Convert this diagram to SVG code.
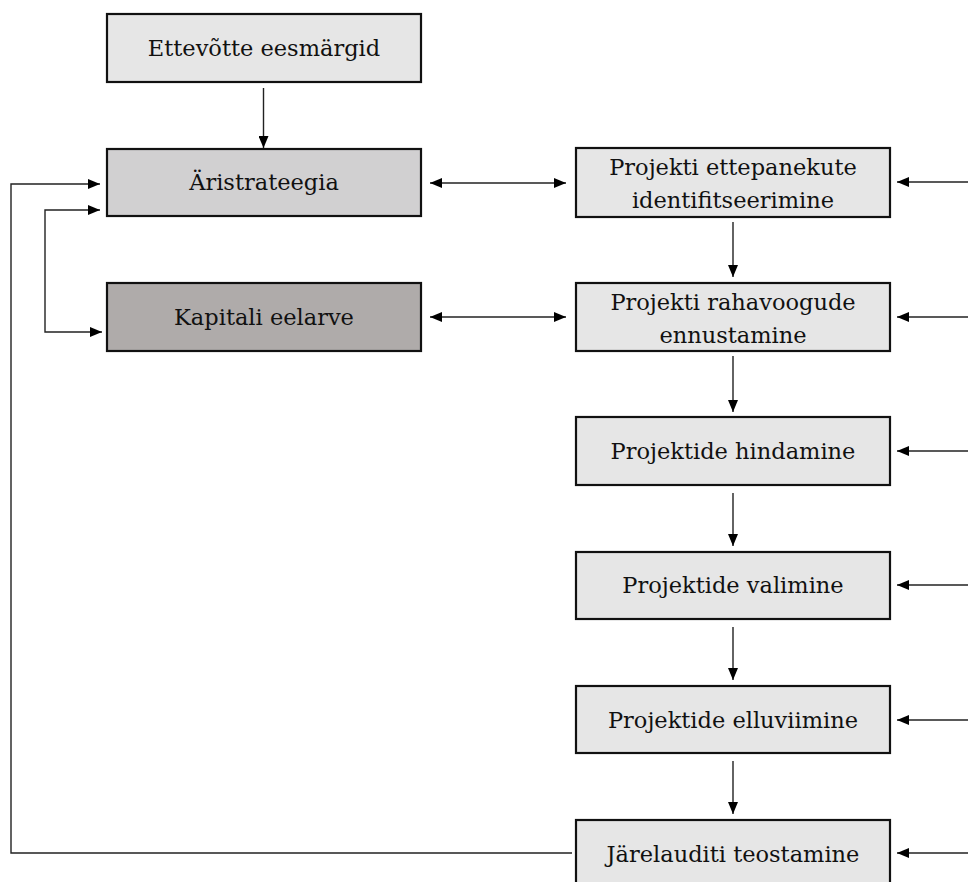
<svg xmlns="http://www.w3.org/2000/svg" width="968" height="882" viewBox="0 0 968 882">
<defs>
<marker id="ah" viewBox="0 0 12 10" refX="12" refY="5" markerWidth="12" markerHeight="10" markerUnits="userSpaceOnUse" orient="auto-start-reverse">
<path d="M0,0 L12,5 L0,10 Z" fill="#000"/>
</marker>
<style>
.box{stroke:#111;stroke-width:2.2}
.l{fill:#e6e6e6}
.m{fill:#d1d0d1}
.d{fill:#afabaa}
.t{font-family:"DejaVu Serif",serif;font-size:22.5px;fill:#111;text-anchor:middle}
.c{fill:none;stroke:#222;stroke-width:1.4}
</style>
</defs>
<rect width="968" height="882" fill="#fff"/>
<g id="n1"><rect class="box l" x="107" y="14" width="314" height="68"/><text class="t" x="264" y="56">Ettevõtte eesmärgid</text></g>
<g id="n2"><rect class="box m" x="107" y="149" width="314" height="67"/><text class="t" x="264" y="190">Äristrateegia</text></g>
<g id="n3"><rect class="box d" x="107" y="283" width="314" height="68"/><text class="t" x="264" y="325">Kapitali eelarve</text></g>
<g id="n4"><rect class="box l" x="576" y="148" width="314" height="69"/><text class="t" x="733" y="175">Projekti ettepanekute</text><text class="t" x="733" y="208">identifitseerimine</text></g>
<g id="n5"><rect class="box l" x="576" y="283" width="314" height="68"/><text class="t" x="733" y="310">Projekti rahavoogude</text><text class="t" x="733" y="343">ennustamine</text></g>
<g id="n6"><rect class="box l" x="576" y="417" width="314" height="68"/><text class="t" x="733" y="459">Projektide hindamine</text></g>
<g id="n7"><rect class="box l" x="576" y="552" width="314" height="67"/><text class="t" x="733" y="593">Projektide valimine</text></g>
<g id="n8"><rect class="box l" x="576" y="686" width="314" height="67"/><text class="t" x="733" y="728">Projektide elluviimine</text></g>
<g id="n9"><rect class="box l" x="576" y="820" width="314" height="80"/><text class="t" x="733" y="862">Järelauditi teostamine</text></g>
<g id="connectors">
<path class="c" d="M263.5,88 V148" marker-end="url(#ah)"/>
<path class="c" d="M430,183 H566" marker-start="url(#ah)" marker-end="url(#ah)"/>
<path class="c" d="M430,317 H566" marker-start="url(#ah)" marker-end="url(#ah)"/>
<path class="c" d="M572,853 H11 V184 H100" marker-end="url(#ah)"/>
<path class="c" d="M100,210 H45 V332 H102" marker-start="url(#ah)" marker-end="url(#ah)"/>
<path class="c" d="M733,222 V277" marker-end="url(#ah)"/>
<path class="c" d="M733,356 V412" marker-end="url(#ah)"/>
<path class="c" d="M733,493 V546" marker-end="url(#ah)"/>
<path class="c" d="M733,627 V680" marker-end="url(#ah)"/>
<path class="c" d="M733,761 V814" marker-end="url(#ah)"/>
<path class="c" d="M968,182 H897" marker-end="url(#ah)"/>
<path class="c" d="M968,317 H897" marker-end="url(#ah)"/>
<path class="c" d="M968,451 H897" marker-end="url(#ah)"/>
<path class="c" d="M968,585 H897" marker-end="url(#ah)"/>
<path class="c" d="M968,720 H897" marker-end="url(#ah)"/>
<path class="c" d="M968,853 H897" marker-end="url(#ah)"/>
</g>
</svg>
